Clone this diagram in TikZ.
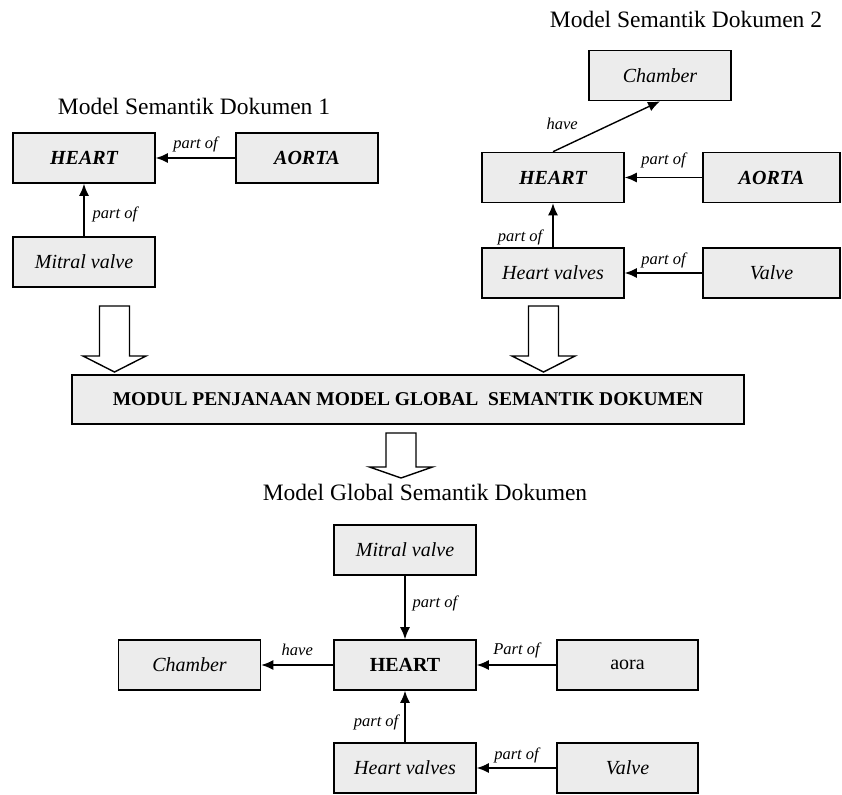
\documentclass[tikz,border=0pt]{standalone}
\usepackage{fontspec}
\setmainfont{Liberation Serif}
\usepackage{tikz}
\usetikzlibrary{arrows.meta}
\usetikzlibrary{positioning}
\definecolor{boxgray}{gray}{0.925}
\tikzstyle{box} = [draw, line width = 1.6pt, fill = boxgray, inner sep = 0,
                   minimum width = 142pt, minimum height = 50pt,
                   font = \fontsize{20}{23}\selectfont]
\tikzstyle{ibox} = [box, font = \fontsize{20}{23}\selectfont\itshape]
\tikzstyle{bibox} = [box, font = \fontsize{20}{23}\selectfont\bfseries\itshape]
\tikzstyle{title} = [inner sep = 0, font = \fontsize{23.5}{27}\selectfont]
\tikzstyle{link} = [line width = 1.4pt, -{Latex[length = 12pt, width = 10pt]}]
\tikzstyle{rel} = [inner sep = 0, font = \fontsize{16.5}{19}\selectfont\itshape]

\begin{document}
\begin{tikzpicture}[x = 1pt, y = -1pt,
                    block arrow/.style = {draw, line width = 1.4pt, fill = white, line join = miter},
                   ]
        \useasboundingbox (0, 0) rectangle (842, 794);

        % Model Semantik Dokumen 1
        \node [title] (title_1) at (194, 106) {Model Semantik Dokumen 1};
        \node [bibox] (heart_1)  at ( 84, 158) {HEART};
        \node [bibox] (aorta_1)  at (307, 158) {AORTA};
        \node [ibox]  (mitral_1) at ( 84, 262) {Mitral valve};

        \draw [link] (aorta_1) -- node [rel, above = 5pt] {part of} (heart_1);
        \draw [link] (mitral_1) -- node [rel, pos = .41, right = 8pt] {part of} (heart_1);

        % Model Semantik Dokumen 2
        \node [title] (title_2) at (686, 19) {Model Semantik Dokumen 2};
        \node [ibox]  (chamber_2) at (660,  75.5) {Chamber};
        \node [bibox] (heart_2)   at (553, 177.5) {HEART};
        \node [bibox, minimum width = 137pt] (aorta_2) at (771.5, 177.5) {AORTA};
        \node [ibox]  (valves_2)  at (553, 273) {Heart valves};
        \node [ibox, minimum width = 137pt]  (valve_2) at (771.5, 273) {Valve};

        \draw [link] (heart_2.north) -- node [rel, pos = .35, above left = 4pt and 12pt] {have} (chamber_2.south);
        \draw [link] (aorta_2) -- node [rel, above = 9pt] {part of} (heart_2);
        \draw [link] (valves_2) -- node [rel, pos = .22, left = 10pt] {part of} (heart_2);
        \draw [link] (valve_2) -- node [rel, above = 4pt] {part of} (valves_2);

        % module
        \node [box, minimum width = 672pt, minimum height = 49pt,
               font = \fontsize{19.5}{23}\selectfont\bfseries] (module) at (408, 399.5)
              {MODUL PENJANAAN MODEL GLOBAL \ SEMANTIK DOKUMEN};

        \foreach \x/\t/\b/\e in {114.5/306/356/372, 543.5/306/356/372, 401/433/467/478}
        {
            \draw [block arrow] ({\x - 15}, \t) -- ({\x + 15}, \t) -- ({\x + 15}, \b)
                -- ({\x + 31.5}, \b) -- (\x, \e) -- ({\x - 31.5}, \b) -- ({\x - 15}, \b) -- cycle;
        }

        % Model Global Semantik Dokumen
        \node [title] (title_3) at (425, 492) {Model Global Semantik Dokumen};
        \node [ibox] (mitral_3)  at (405, 550) {Mitral valve};
        \node [box, font = \fontsize{20}{23}\selectfont\bfseries] (heart_3) at (405, 665) {HEART};
        \node [ibox] (chamber_3) at (189.5, 665) {Chamber};
        \node [box, minimum width = 141pt] (aora_3) at (627.5, 665) {aora};
        \node [ibox] (valves_3)  at (405, 768) {Heart valves};
        \node [ibox, minimum width = 141pt] (valve_3) at (627.5, 768) {Valve};

        \draw [link] (mitral_3) -- node [rel, pos = .43, right = 7pt] {part of} (heart_3);
        \draw [link] (heart_3) -- node [rel, above = 9pt] {have} (chamber_3);
        \draw [link] (aora_3) -- node [rel, above = 6pt] {Part of} (heart_3);
        \draw [link] (valves_3) -- node [rel, pos = .38, left = 6pt] {part of} (heart_3);
        \draw [link] (valve_3) -- node [rel, above = 4pt] {part of} (valves_3);
    \end{tikzpicture}
\end{document}
